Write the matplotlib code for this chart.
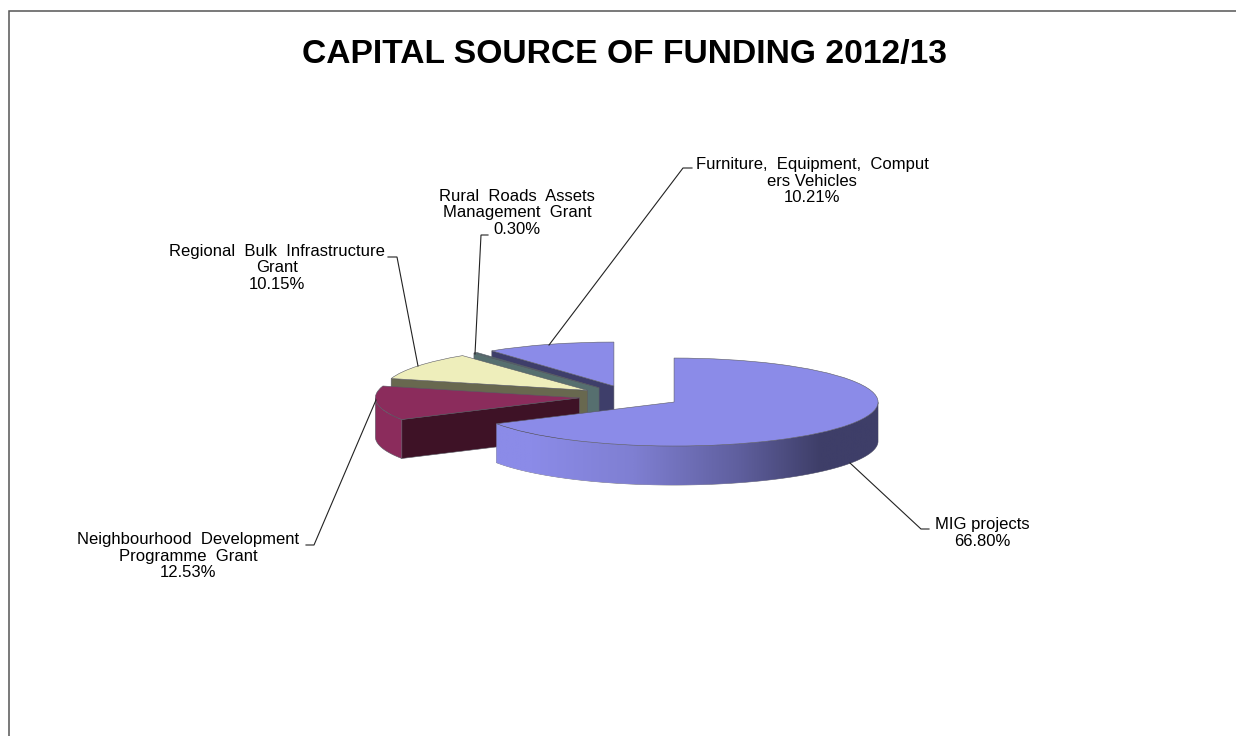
import numpy as np
import matplotlib
matplotlib.use("Agg")
import matplotlib.pyplot as plt
from matplotlib.colors import LinearSegmentedColormap
from matplotlib.patches import Polygon

# ---------- data ----------
title = "CAPITAL SOURCE OF FUNDING 2012/13"
categories = [
    "MIG projects",
    "Neighbourhood  Development\nProgramme  Grant",
    "Regional  Bulk  Infrastructure\nGrant",
    "Rural  Roads  Assets\nManagement  Grant",
    "Furniture,  Equipment,  Comput\ners Vehicles",
]
values = [66.80, 12.53, 10.15, 0.30, 10.21]

# ---------- styles / layout ----------
W, H = 1236, 736
top_colors = ["#8b8be8", "#8b2c5c", "#eeeebb", "#4a6c6c", "#8b8be8"]
cut_colors = ["#3e3e68", "#3e1226", "#68684f", "#566f6f", "#3e3e6a"]
side_colors = [None, "#8b2c5c", "#a5a57f", "#566f6f", "#3e3e6a"]
draw_order = [4, 3, 2, 1, 0]
CX, CY, RX, RY = 630.0, 396.5, 204.0, 44.0
DEPTH = 39.0 / RY
EXPLODE = 0.25
EDGE = "#5a5a64"

label_pos = [(982, 533), (188, 556), (277, 268), (517, 213), (812, 181)]
leaders = [
    [(850, 463), (921, 529), (929, 529)],
    [(376, 400), (314, 545), (306, 545)],
    [(418, 366), (397, 257), (388, 257)],
    [(475, 354), (481, 235), (488, 235)],
    [(549, 345), (683, 168), (692, 168)],
]

fig = plt.figure(figsize=(W / 100, H / 100), dpi=100, facecolor="white")
ax = fig.add_axes([0, 0, 1, 1])
wedges, _ = ax.pie(values, startangle=90, counterclock=False,
                   explode=[EXPLODE] * len(values), colors=top_colors,
                   wedgeprops=dict(edgecolor=EDGE, linewidth=0.4))
ax.set_aspect("auto")
ax.axis("off")

gradient = LinearSegmentedColormap.from_list("side", [
    (0.00, "#8b8be8"), (0.15, "#8b8be8"), (0.40, "#7f7fd2"),
    (0.66, "#5f5f9e"), (0.86, "#3e3e68"), (1.00, "#3e3e68")])


def arc(center, t1, t2, n=400):
    t = np.radians(np.linspace(t1, t2, n))
    return np.column_stack([center[0] + np.cos(t), center[1] + np.sin(t)])


for rank, i in enumerate(draw_order):
    w = wedges[i]
    base = 10 + rank * 10
    w.set_zorder(base + 3)
    c = np.array(w.center)
    pts = arc(c, w.theta1, w.theta2)
    front = pts[pts[:, 1] <= c[1]]
    for theta, facing in ((w.theta1, np.cos(np.radians(w.theta1)) > 1e-6),
                          (w.theta2, np.cos(np.radians(w.theta2)) < -1e-6)):
        if facing:
            tip = c + [np.cos(np.radians(theta)), np.sin(np.radians(theta))]
            quad = np.array([c, tip, tip - [0, DEPTH], c - [0, DEPTH]])
            ax.add_patch(Polygon(quad, closed=True, fc=cut_colors[i], ec=EDGE,
                                 lw=0.4, zorder=base + 1))
    if len(front) > 1:
        poly = np.vstack([front, (front - [0, DEPTH])[::-1]])
        if side_colors[i] is None:
            patch = Polygon(poly, closed=True, fc="none", ec=EDGE, lw=0.4,
                            zorder=base + 2)
            ax.add_patch(patch)
            img = ax.imshow(np.linspace(0, 1, 512)[None, :], cmap=gradient,
                            extent=(c[0] - 1, c[0] + 1, c[1] - 2, c[1] + 1),
                            aspect="auto", zorder=base + 2)
            img.set_clip_path(patch)
        else:
            ax.add_patch(Polygon(poly, closed=True, fc=side_colors[i], ec=EDGE,
                                 lw=0.4, zorder=base + 2))

ax.set_xlim(-CX / RX, (W - CX) / RX)
ax.set_ylim((CY - H) / RY, CY / RY)

# ---------- overlay in pixel space: border, title, labels, leaders ----------
ov = fig.add_axes([0, 0, 1, 1], facecolor="none")
ov.set_xlim(0, W)
ov.set_ylim(H, 0)
ov.axis("off")
ov.plot([8.5, 8.5, W], [H, 10.5, 10.5], color="#555555", lw=1.1,
        solid_joinstyle="miter")
font = "Liberation Sans"
ov.text(624, 62.5, title, ha="center", va="baseline", fontsize=24.2,
        fontweight="bold", family=font, color="black")
for name, val, (x, y), path in zip(categories, values, label_pos, leaders):
    ov.text(x, y, f"{name}\n{val:.2f}%", ha="center", va="center",
            multialignment="center", fontsize=12, family=font,
            color="black", linespacing=1.13)
    xs, ys = zip(*path)
    ov.plot(xs, ys, color="#222222", lw=0.8, solid_joinstyle="miter")

fig.savefig("out.png", dpi=100, facecolor="white")
